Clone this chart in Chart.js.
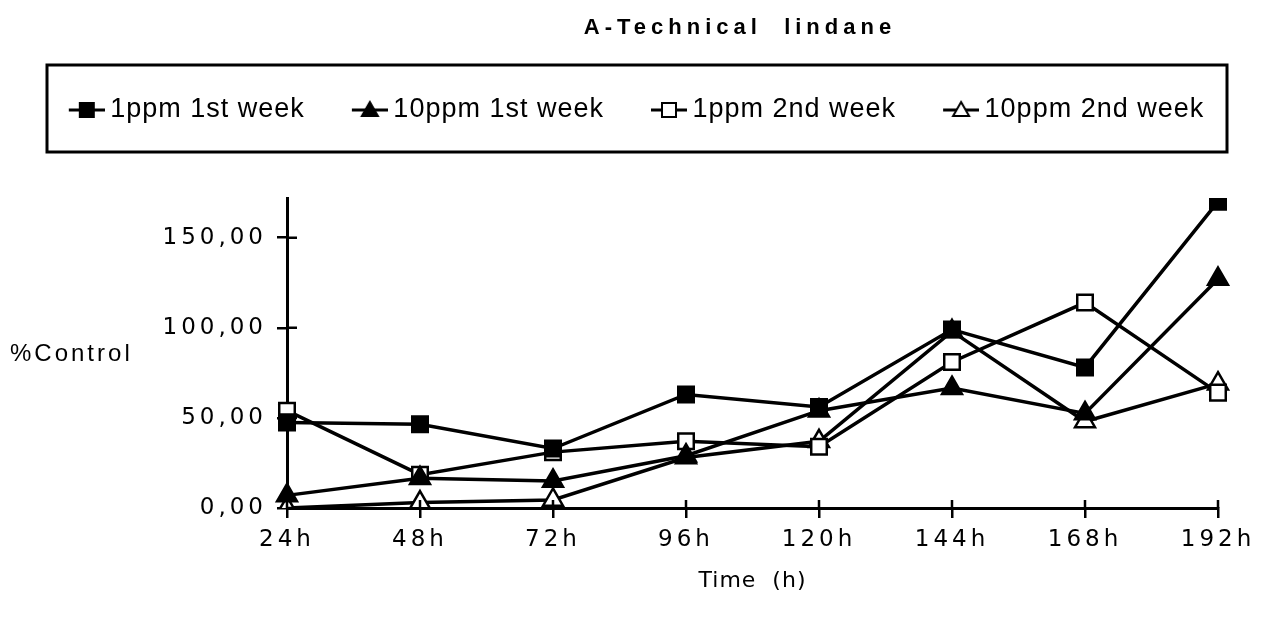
<!DOCTYPE html>
<html>
<head>
<meta charset="utf-8">
<script src="https://cdn.jsdelivr.net/npm/chart.js@4.4.1/dist/chart.umd.min.js"></script>
<style>
  html, body { margin: 0; padding: 0; background: #fff; }
  #wrap { position: relative; width: 1261px; height: 626px; }
</style>
</head>
<body>
<div id="wrap"><canvas id="c"></canvas></div>
<script>
// Sampling times (hours)
const hours = ['24h', '48h', '72h', '96h', '120h', '144h', '168h', '192h'];

// % of control, one array per exposure group
const ppm1Week1  = [47.5, 46.5, 33, 63, 56, 99, 78, 170];
const ppm10Week1 = [7, 16.5, 15, 29, 54, 66.5, 52.5, 127];
const ppm1Week2  = [54, 18.5, 31, 37, 34, 81, 114, 64];
const ppm10Week2 = [0, 3, 4.5, 28, 37, 98, 48, 69];

const seriesNames = ['1ppm 1st week', '10ppm 1st week', '1ppm 2nd week', '10ppm 2nd week'];

// Value axis ticks and their printed form
const yTickValues = [0, 50, 100, 150];
const yTickLabels = ['0,00', '50,00', '100,00', '150,00'];

const chartTitle = 'A-Technical  lindane';
const yAxisTitle = '%Control';
const xAxisTitle = 'Time  (h)';

const seriesValues = [ppm1Week1, ppm10Week1, ppm1Week2, ppm10Week2];
const markers = [
  { shape: 'rect', filled: true, r: 11 },
  { shape: 'triangle', filled: true, r: 11.5 },
  { shape: 'rect', filled: false, r: 11 },
  { shape: 'triangle', filled: false, r: 11.5 }
];

// Small line-and-marker glyph for each legend entry
function legendGlyph(m) {
  const c = document.createElement('canvas');
  c.width = 56; c.height = 24;
  const g = c.getContext('2d');
  g.strokeStyle = '#000';
  g.lineWidth = 3;
  g.beginPath(); g.moveTo(20, 12); g.lineTo(56, 12); g.stroke();
  const cx = 38, cy = 12;
  g.lineWidth = 2;
  g.fillStyle = m.filled ? '#000' : '#fff';
  g.beginPath();
  if (m.shape === 'rect') {
    g.rect(cx - 7, cy - 7, 14, 14);
  } else {
    g.moveTo(cx, cy - 8); g.lineTo(cx + 8, cy + 6); g.lineTo(cx - 8, cy + 6); g.closePath();
  }
  g.fill(); g.stroke();
  return c;
}
const glyphs = markers.map(legendGlyph);

const datasets = seriesValues.map((vals, i) => ({
  label: seriesNames[i],
  data: vals,
  xAxisID: 'x',
  yAxisID: 'y',
  borderColor: '#000',
  borderWidth: 3.5,
  tension: 0,
  fill: false,
  pointStyle: markers[i].shape,
  pointRadius: markers[i].r,
  pointBackgroundColor: markers[i].filled ? '#000' : '#fff',
  pointBorderColor: '#000',
  pointBorderWidth: 2.5
}));

// Letter spacing per drawing pass, title, y caption, legend frame and inner tick halves
const decor = {
  id: 'decor',
  beforeLayout(chart) { chart.ctx.letterSpacing = '1px'; },
  beforeDraw(chart) { chart.ctx.letterSpacing = '1px'; },
  afterDatasetsDraw(chart) { chart.ctx.letterSpacing = '4px'; },
  afterDraw(chart) {
    const ctx = chart.ctx;
    const xs = chart.scales.x, ys = chart.scales.y;
    const area = chart.chartArea;
    const lg = chart.legend;
    ctx.save();
    ctx.strokeStyle = '#000';
    ctx.lineWidth = 2.5;
    ctx.beginPath();
    xs.ticks.forEach((t, i) => {
      const px = xs.getPixelForTick(i);
      ctx.moveTo(px, area.bottom);
      ctx.lineTo(px, area.bottom - 8);
    });
    yTickValues.forEach(v => {
      const py = ys.getPixelForValue(v);
      ctx.moveTo(area.left, py);
      ctx.lineTo(area.left + 10, py);
    });
    ctx.stroke();

    ctx.lineWidth = 3;
    ctx.strokeRect(lg.left + 47, lg.top + 3.5, lg.width - 81, 87);

    ctx.fillStyle = '#000';
    ctx.textBaseline = 'middle';
    ctx.letterSpacing = '5px';
    ctx.font = 'bold 22px "Liberation Sans", Arial, sans-serif';
    ctx.textAlign = 'center';
    ctx.fillText(chartTitle, 740, 28);

    ctx.letterSpacing = '3px';
    ctx.font = '24px "Liberation Sans", Arial, sans-serif';
    ctx.textAlign = 'left';
    ctx.fillText(yAxisTitle, 10, 354);
    ctx.restore();
    ctx.letterSpacing = '0px';
  }
};

const axisGrid = {
  display: true,
  drawOnChartArea: false,
  drawTicks: true,
  tickLength: 10,
  color: '#000',
  lineWidth: 2.5
};

new Chart(document.getElementById('c'), {
  type: 'line',
  data: { labels: hours, datasets },
  plugins: [decor],
  options: {
    responsive: true,
    maintainAspectRatio: false,
    animation: false,
    layout: { padding: { top: 61.5, left: 0, right: 0, bottom: 0 } },
    plugins: {
      title: { display: false },
      tooltip: { enabled: false },
      legend: {
        display: true,
        position: 'top',
        align: 'center',
        labels: {
          usePointStyle: true,
          pointStyleWidth: 40,
          color: '#000',
          font: { family: '"Liberation Sans", Arial, sans-serif', size: 27 },
          padding: 35,
          generateLabels(chart) {
            const items = Chart.defaults.plugins.legend.labels.generateLabels(chart);
            items.forEach((it, i) => { it.pointStyle = glyphs[i]; });
            return items;
          }
        }
      }
    },
    scales: {
      x: {
        type: 'category',
        position: 'bottom',
        offset: false,
        grid: Object.assign({ offset: false }, axisGrid),
        border: { display: true, color: '#000', width: 3 },
        ticks: {
          color: '#000',
          font: { family: '"DejaVu Sans", sans-serif', size: 23 },
          padding: 8,
          maxRotation: 0,
          autoSkip: false,
          z: 1
        },
        title: {
          display: true,
          text: xAxisTitle,
          color: '#000',
          font: { family: '"DejaVu Sans", sans-serif', size: 22 },
          padding: { top: 0, bottom: 32 }
        },
        afterFit(s) { s.height = 118; }
      },
      y: {
        type: 'linear',
        position: 'left',
        min: 0,
        max: 172,
        afterBuildTicks(s) { s.ticks = yTickValues.map(v => ({ value: v })); },
        grid: axisGrid,
        border: { display: true, color: '#000', width: 3 },
        ticks: {
          color: '#000',
          font: { family: '"DejaVu Sans", sans-serif', size: 23 },
          padding: 10,
          z: 1,
          callback(v) {
            const k = yTickValues.indexOf(v);
            return k >= 0 ? yTickLabels[k] : '';
          }
        },
        afterFit(s) { s.width = 287; }
      },
      gapTop: {
        type: 'linear',
        position: 'top',
        display: true,
        grid: { display: false, drawTicks: false },
        border: { display: false },
        ticks: { display: false },
        afterFit(s) { s.height = 64.5; }
      },
      gapRight: {
        type: 'linear',
        position: 'right',
        display: true,
        grid: { display: false, drawTicks: false },
        border: { display: false },
        ticks: { display: false },
        afterFit(s) { s.width = 43; }
      }
    }
  }
});
</script>
</body>
</html>
